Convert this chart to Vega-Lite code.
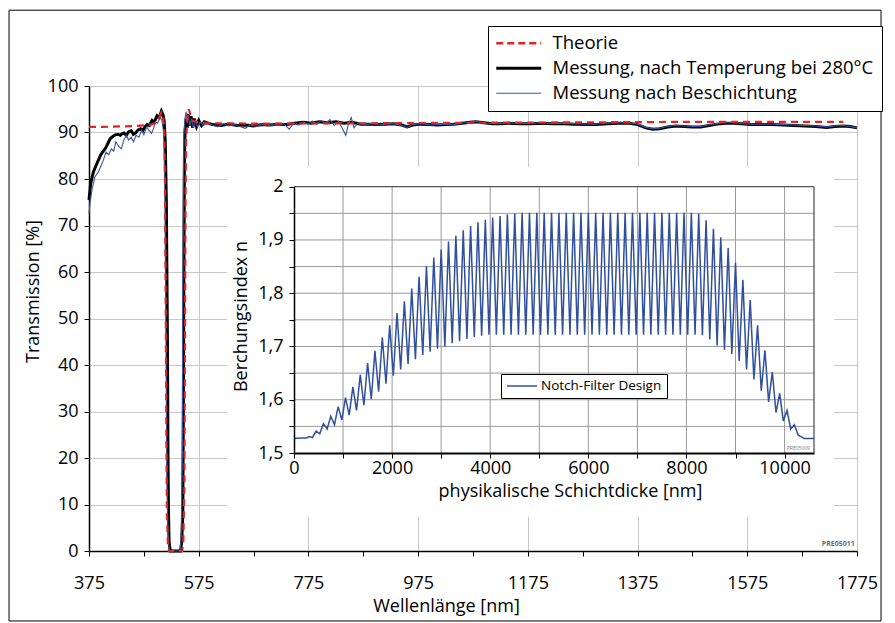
{
"$schema":"https://vega.github.io/schema/vega-lite/v6.json",
"width":768,"height":465,
"autosize":{"type":"none"},
"padding":{"left":89,"top":86,"right":38,"bottom":72},
"background":"white",
"config":{"font":"Open Sans","view":{"stroke":null},
 "axis":{"labelFont":"Open Sans","titleFont":"Open Sans","labelColor":"black","titleColor":"black","titleFontWeight":"normal","labelFontSize":18,"titleFontSize":18,"labelFlush":false,"labelOverlap":false,"domainColor":"black","tickColor":"black","tickSize":5},
 "legend":{"labelFont":"Open Sans","labelColor":"black","labelLimit":500}},
"layer":[
 {"data":{"values":[
{"s":"M","x":375,"y":75.5},{"s":"M","x":378,"y":79},{"s":"M","x":383,"y":81.5},{"s":"M","x":390,"y":83.5},{"s":"M","x":396,"y":85.1},{"s":"M","x":401,"y":86},{"s":"M","x":405,"y":86.6},{"s":"M","x":410,"y":87.8},{"s":"M","x":414,"y":88.7},{"s":"M","x":419,"y":89.2},{"s":"M","x":423,"y":89.5},{"s":"M","x":428,"y":89.6},{"s":"M","x":432,"y":89.4},{"s":"M","x":435,"y":89.7},{"s":"M","x":439,"y":89.9},{"s":"M","x":443,"y":89.4},{"s":"M","x":447,"y":90.1},{"s":"M","x":452,"y":90.4},{"s":"M","x":456,"y":89.6},{"s":"M","x":460,"y":89.9},{"s":"M","x":464,"y":90.5},{"s":"M","x":469,"y":90.8},{"s":"M","x":473,"y":90.4},{"s":"M","x":477,"y":91.2},{"s":"M","x":481,"y":91.7},{"s":"M","x":485,"y":91.5},{"s":"M","x":490,"y":92.6},{"s":"M","x":494,"y":92.2},{"s":"M","x":499,"y":93.6},{"s":"M","x":503,"y":93.2},{"s":"M","x":507,"y":94.6},{"s":"M","x":510,"y":93.8},{"s":"M","x":512,"y":92.5},{"s":"M","x":514,"y":88},{"s":"M","x":516,"y":75},{"s":"M","x":518,"y":45},{"s":"M","x":519,"y":20},{"s":"M","x":520,"y":8},{"s":"M","x":521,"y":2},{"s":"M","x":523,"y":0},{"s":"M","x":542,"y":0},{"s":"M","x":544,"y":2},{"s":"M","x":546,"y":8},{"s":"M","x":547,"y":30},{"s":"M","x":548,"y":60},{"s":"M","x":549,"y":85},{"s":"M","x":550,"y":90},{"s":"M","x":552,"y":93},{"s":"M","x":554,"y":91},{"s":"M","x":556,"y":94},{"s":"M","x":558,"y":91.5},{"s":"M","x":561,"y":93.5},{"s":"M","x":564,"y":91},{"s":"M","x":567,"y":93},{"s":"M","x":571,"y":91.3},{"s":"M","x":575,"y":92.6},{"s":"M","x":580,"y":91.5},{"s":"M","x":585,"y":92.3},{"s":"M","x":600,"y":91.7},{"s":"M","x":615,"y":91.5},{"s":"M","x":630,"y":91.8},{"s":"M","x":645,"y":91.5},{"s":"M","x":660,"y":91.6},{"s":"M","x":675,"y":91.4},{"s":"M","x":690,"y":91.7},{"s":"M","x":705,"y":91.6},{"s":"M","x":720,"y":91.8},{"s":"M","x":735,"y":91.7},{"s":"M","x":750,"y":92.0},{"s":"M","x":765,"y":92.2},{"s":"M","x":780,"y":92.0},{"s":"M","x":795,"y":92.3},{"s":"M","x":810,"y":92.1},{"s":"M","x":825,"y":92.3},{"s":"M","x":840,"y":92.0},{"s":"M","x":855,"y":92.2},{"s":"M","x":870,"y":91.8},{"s":"M","x":885,"y":91.8},{"s":"M","x":900,"y":91.7},{"s":"M","x":915,"y":91.8},{"s":"M","x":930,"y":91.9},{"s":"M","x":945,"y":91.6},{"s":"M","x":955,"y":91.2},{"s":"M","x":965,"y":91.6},{"s":"M","x":980,"y":91.8},{"s":"M","x":995,"y":91.7},{"s":"M","x":1010,"y":91.6},{"s":"M","x":1025,"y":91.7},{"s":"M","x":1040,"y":91.8},{"s":"M","x":1055,"y":92.0},{"s":"M","x":1070,"y":92.2},{"s":"M","x":1080,"y":92.3},{"s":"M","x":1095,"y":92.1},{"s":"M","x":1110,"y":91.9},{"s":"M","x":1125,"y":91.9},{"s":"M","x":1140,"y":92.0},{"s":"M","x":1160,"y":91.9},{"s":"M","x":1180,"y":91.9},{"s":"M","x":1200,"y":92.0},{"s":"M","x":1220,"y":91.9},{"s":"M","x":1240,"y":91.9},{"s":"M","x":1260,"y":91.8},{"s":"M","x":1280,"y":91.7},{"s":"M","x":1300,"y":91.7},{"s":"M","x":1320,"y":91.9},{"s":"M","x":1340,"y":92.0},{"s":"M","x":1360,"y":92.0},{"s":"M","x":1375,"y":91.7},{"s":"M","x":1390,"y":91.0},{"s":"M","x":1403,"y":90.7},{"s":"M","x":1415,"y":90.8},{"s":"M","x":1430,"y":91.2},{"s":"M","x":1445,"y":91.4},{"s":"M","x":1460,"y":91.3},{"s":"M","x":1475,"y":91.2},{"s":"M","x":1490,"y":91.2},{"s":"M","x":1505,"y":91.5},{"s":"M","x":1520,"y":91.8},{"s":"M","x":1535,"y":92.0},{"s":"M","x":1550,"y":92.0},{"s":"M","x":1565,"y":91.9},{"s":"M","x":1580,"y":91.7},{"s":"M","x":1600,"y":91.7},{"s":"M","x":1620,"y":91.7},{"s":"M","x":1640,"y":91.6},{"s":"M","x":1660,"y":91.5},{"s":"M","x":1680,"y":91.4},{"s":"M","x":1700,"y":91.3},{"s":"M","x":1720,"y":91.1},{"s":"M","x":1735,"y":91.3},{"s":"M","x":1750,"y":91.4},{"s":"M","x":1762,"y":91.3},{"s":"M","x":1775,"y":91.0},
{"s":"B","x":375,"y":72.5},{"s":"B","x":377,"y":75},{"s":"B","x":381,"y":78},{"s":"B","x":386,"y":80.5},{"s":"B","x":392,"y":81.5},{"s":"B","x":397,"y":82.9},{"s":"B","x":401,"y":84},{"s":"B","x":406,"y":85.8},{"s":"B","x":411,"y":85.2},{"s":"B","x":416,"y":86.5},{"s":"B","x":420,"y":86},{"s":"B","x":424,"y":88},{"s":"B","x":429,"y":87},{"s":"B","x":434,"y":86.5},{"s":"B","x":438,"y":88.2},{"s":"B","x":443,"y":89.4},{"s":"B","x":447,"y":88.4},{"s":"B","x":452,"y":89},{"s":"B","x":456,"y":88},{"s":"B","x":461,"y":89.4},{"s":"B","x":466,"y":89},{"s":"B","x":471,"y":90.5},{"s":"B","x":475,"y":89.5},{"s":"B","x":480,"y":91.2},{"s":"B","x":484,"y":90.5},{"s":"B","x":489,"y":89.8},{"s":"B","x":493,"y":91},{"s":"B","x":496,"y":92.3},{"s":"B","x":500,"y":92},{"s":"B","x":505,"y":93.4},{"s":"B","x":508,"y":92.5},{"s":"B","x":511,"y":90},{"s":"B","x":513,"y":80},{"s":"B","x":515,"y":50},{"s":"B","x":517,"y":15},{"s":"B","x":519,"y":4},{"s":"B","x":521,"y":0.5},{"s":"B","x":523,"y":0},{"s":"B","x":541,"y":0},{"s":"B","x":543,"y":3},{"s":"B","x":545,"y":20},{"s":"B","x":546,"y":55},{"s":"B","x":547,"y":80},{"s":"B","x":548,"y":90},{"s":"B","x":550,"y":93},{"s":"B","x":552,"y":94.5},{"s":"B","x":554,"y":92},{"s":"B","x":556,"y":93.5},{"s":"B","x":559,"y":91.5},{"s":"B","x":562,"y":93},{"s":"B","x":565,"y":91},{"s":"B","x":569,"y":92.5},{"s":"B","x":573,"y":91.2},{"s":"B","x":578,"y":92.3},{"s":"B","x":583,"y":91.5},{"s":"B","x":590,"y":91.9},{"s":"B","x":600,"y":91.6},{"s":"B","x":610,"y":91.2},{"s":"B","x":620,"y":91.9},{"s":"B","x":630,"y":91.4},{"s":"B","x":640,"y":91.7},{"s":"B","x":650,"y":91.3},{"s":"B","x":660,"y":90.9},{"s":"B","x":668,"y":91.6},{"s":"B","x":680,"y":91.3},{"s":"B","x":690,"y":91.8},{"s":"B","x":700,"y":91.4},{"s":"B","x":710,"y":91.7},{"s":"B","x":720,"y":91.5},{"s":"B","x":730,"y":91.9},{"s":"B","x":740,"y":90.7},{"s":"B","x":748,"y":92.0},{"s":"B","x":758,"y":91.6},{"s":"B","x":766,"y":92.3},{"s":"B","x":774,"y":91.8},{"s":"B","x":782,"y":92.5},{"s":"B","x":790,"y":91.7},{"s":"B","x":798,"y":92.6},{"s":"B","x":806,"y":91.9},{"s":"B","x":814,"y":92.8},{"s":"B","x":822,"y":91.5},{"s":"B","x":830,"y":92.4},{"s":"B","x":838,"y":90.6},{"s":"B","x":843,"y":89.4},{"s":"B","x":848,"y":91.8},{"s":"B","x":853,"y":93.2},{"s":"B","x":858,"y":91.0},{"s":"B","x":865,"y":92.0},{"s":"B","x":875,"y":91.7},{"s":"B","x":890,"y":91.9},{"s":"B","x":905,"y":91.6},{"s":"B","x":920,"y":91.9},{"s":"B","x":935,"y":91.8},{"s":"B","x":948,"y":91.4},{"s":"B","x":955,"y":91.1},{"s":"B","x":965,"y":91.7},{"s":"B","x":980,"y":91.9},{"s":"B","x":1000,"y":91.6},{"s":"B","x":1020,"y":91.8},{"s":"B","x":1040,"y":91.7},{"s":"B","x":1060,"y":92.1},{"s":"B","x":1080,"y":92.4},{"s":"B","x":1100,"y":92.0},{"s":"B","x":1120,"y":91.9},{"s":"B","x":1140,"y":92.1},{"s":"B","x":1160,"y":91.9},{"s":"B","x":1180,"y":92.0},{"s":"B","x":1200,"y":92.1},{"s":"B","x":1220,"y":91.9},{"s":"B","x":1240,"y":92.0},{"s":"B","x":1260,"y":91.9},{"s":"B","x":1280,"y":91.8},{"s":"B","x":1300,"y":91.8},{"s":"B","x":1320,"y":92.0},{"s":"B","x":1340,"y":92.1},{"s":"B","x":1360,"y":92.0},{"s":"B","x":1375,"y":91.8},{"s":"B","x":1390,"y":91.1},{"s":"B","x":1403,"y":90.8},{"s":"B","x":1415,"y":90.9},{"s":"B","x":1430,"y":91.3},{"s":"B","x":1445,"y":91.5},{"s":"B","x":1460,"y":91.4},{"s":"B","x":1475,"y":91.3},{"s":"B","x":1490,"y":91.3},{"s":"B","x":1505,"y":91.6},{"s":"B","x":1520,"y":91.9},{"s":"B","x":1535,"y":92.1},{"s":"B","x":1550,"y":92.1},{"s":"B","x":1565,"y":91.9},{"s":"B","x":1580,"y":91.8},{"s":"B","x":1600,"y":91.8},{"s":"B","x":1620,"y":91.8},{"s":"B","x":1640,"y":91.7},{"s":"B","x":1660,"y":91.6},{"s":"B","x":1680,"y":91.5},{"s":"B","x":1700,"y":91.4},{"s":"B","x":1720,"y":91.2},{"s":"B","x":1735,"y":91.4},{"s":"B","x":1750,"y":91.5},{"s":"B","x":1762,"y":91.3},{"s":"B","x":1775,"y":91.0},
{"s":"T","x":375,"y":91.2},{"s":"T","x":400,"y":91.2},{"s":"T","x":430,"y":91.3},{"s":"T","x":460,"y":91.4},{"s":"T","x":485,"y":91.6},{"s":"T","x":495,"y":92},{"s":"T","x":502,"y":93},{"s":"T","x":507,"y":94.3},{"s":"T","x":510,"y":93.5},{"s":"T","x":512,"y":91},{"s":"T","x":513,"y":85},{"s":"T","x":514,"y":70},{"s":"T","x":515,"y":50},{"s":"T","x":516,"y":25},{"s":"T","x":517,"y":8},{"s":"T","x":519,"y":1},{"s":"T","x":521,"y":0},{"s":"T","x":545,"y":0},{"s":"T","x":547,"y":2},{"s":"T","x":549,"y":15},{"s":"T","x":550,"y":45},{"s":"T","x":551,"y":75},{"s":"T","x":552,"y":88},{"s":"T","x":554,"y":93},{"s":"T","x":557,"y":95},{"s":"T","x":560,"y":93.8},{"s":"T","x":564,"y":92.5},{"s":"T","x":570,"y":92.3},{"s":"T","x":580,"y":92.0},{"s":"T","x":700,"y":91.9},{"s":"T","x":900,"y":92.0},{"s":"T","x":1100,"y":92.1},{"s":"T","x":1300,"y":92.2},{"s":"T","x":1500,"y":92.3},{"s":"T","x":1750,"y":92.3}
  ]},
 "layer":[
  {"transform":[{"filter":"datum.s==='M'"}],
   "mark":{"type":"line","strokeWidth":3},
   "encoding":{
    "x":{"field":"x","type":"quantitative","scale":{"domain":[375,1775],"nice":false,"zero":false},
     "axis":{"values":[375,475,575,675,775,875,975,1075,1175,1275,1375,1475,1575,1675,1775],"format":"d",
      "labelExpr":"(datum.value-375)%200===0 ? datum.label : ''",
      "gridOpacity":{"condition":{"test":"(datum.value-375)%200===0","value":1},"value":0},
      "gridColor":"#c8c8c8","domainWidth":1.5,"labelBaseline":"middle","labelPadding":27,
      "title":"Wellenlänge [nm]","titleX":357,"titleY":55,"titleBaseline":"middle"}},
    "y":{"field":"y","type":"quantitative","scale":{"domain":[0,100],"nice":false,"zero":false},
     "axis":{"values":[0,5,10,15,20,25,30,35,40,45,50,55,60,65,70,75,80,85,90,95,100],"format":"d",
      "labelExpr":"datum.value%10===0 ? datum.label : ''",
      "gridOpacity":{"condition":{"test":"datum.value%10===0","value":1},"value":0},
      "gridColor":"#c8c8c8","domainWidth":1.5,"labelPadding":6,
      "title":"Transmission [%]","titleX":-56,"titleY":205,"titleBaseline":"middle","titleAngle":-90}},
    "color":{"field":"s","type":"nominal","scale":{"domain":["T","M","B"],"range":["#e52421","#000000","#3655a5"]},
     "legend":{"orient":"none","legendX":399,"legendY":-60,"title":null,"symbolType":"M-1,0H4","symbolSize":324,"labelFontSize":18.5,"padding":8,"rowPadding":6,"strokeColor":"black","fillColor":"white","labelOffset":38,
      "values":["T","M","B"],
      "labelExpr":"datum.value=='T' ? 'Theorie' : datum.value=='M' ? 'Messung, nach Temperung bei 280°C' : 'Messung nach Beschichtung'",
      "encode":{"symbols":{"update":{"strokeDash":{"signal":"datum.value==='T' ? [7,4] : [1,0]"},"strokeWidth":{"signal":"datum.value==='T' ? 2.4 : datum.value==='M' ? 3 : 1.2"}}}}}}
   }},
  {"transform":[{"filter":"datum.s==='B'"}],
   "mark":{"type":"line","strokeWidth":1.1},
   "encoding":{"x":{"field":"x","type":"quantitative"},"y":{"field":"y","type":"quantitative"},"color":{"field":"s","type":"nominal"}}},
  {"transform":[{"filter":"datum.s==='T'"}],
   "mark":{"type":"line","strokeWidth":2.2,"strokeDash":[7,5]},
   "encoding":{"x":{"field":"x","type":"quantitative"},"y":{"field":"y","type":"quantitative"},"color":{"field":"s","type":"nominal"}}},
  {"data":{"values":[{}]},"mark":{"type":"rect","filled":false,"stroke":"black","strokeWidth":1},
   "encoding":{"x":{"datum":229.2,"type":"quantitative","scale":{"domain":[375,1775],"nice":false,"zero":false}},"x2":{"datum":1818.8},
    "y":{"datum":116.3,"type":"quantitative","scale":{"domain":[0,100],"nice":false,"zero":false}},"y2":{"datum":-15.05}}},
  {"data":{"values":[{}]},"mark":{"type":"text","align":"right","baseline":"bottom","fontSize":7,"fontWeight":"bold","color":"#6b6b6b"},
   "encoding":{"x":{"datum":1771,"type":"quantitative","scale":{"domain":[375,1775],"nice":false,"zero":false}},"y":{"datum":0.8,"type":"quantitative","scale":{"domain":[0,100],"nice":false,"zero":false}},"text":{"value":"PRE05011"}}}
 ]},
 {"layer":[
  {"data":{"values":[{}]},"mark":{"type":"rect","fill":"white"},
   "encoding":{"x":{"datum":-1366,"type":"quantitative","scale":{"domain":[0,10600],"range":[205,725],"nice":false,"zero":false}},"x2":{"datum":11007},
    "y":{"datum":1.38,"type":"quantitative","scale":{"domain":[1.5,2],"range":[367,100.7],"nice":false,"zero":false}},"y2":{"datum":2.037}}},
  {"data":{"values":[{"g":1000},{"g":2000},{"g":3000},{"g":4000},{"g":5000},{"g":6000},{"g":7000},{"g":8000},{"g":9000},{"g":10000}]},
   "mark":{"type":"rule","color":"#9a9a9a","strokeWidth":1},
   "encoding":{"x":{"field":"g","type":"quantitative","scale":{"domain":[0,10600],"range":[205,725],"nice":false,"zero":false}},
    "y":{"datum":1.5,"type":"quantitative","scale":{"domain":[1.5,2],"range":[367,100.7],"nice":false,"zero":false}},"y2":{"datum":2}}},
  {"data":{"values":[{"g":1.55},{"g":1.6},{"g":1.65},{"g":1.7},{"g":1.75},{"g":1.8},{"g":1.85},{"g":1.9},{"g":1.95}]},
   "mark":{"type":"rule","color":"#9a9a9a","strokeWidth":1},
   "encoding":{"y":{"field":"g","type":"quantitative","scale":{"domain":[1.5,2],"range":[367,100.7],"nice":false,"zero":false}},
    "x":{"datum":0,"type":"quantitative","scale":{"domain":[0,10600],"range":[205,725],"nice":false,"zero":false}},"x2":{"datum":10600}}},
  {"data":{"values":[{}]},"mark":{"type":"rule","color":"#555555","strokeWidth":1.3},
   "encoding":{"x":{"datum":0,"type":"quantitative","scale":{"domain":[0,10600],"range":[205,725],"nice":false,"zero":false}},"x2":{"datum":10600},
    "y":{"datum":2,"type":"quantitative","scale":{"domain":[1.5,2],"range":[367,100.7],"nice":false,"zero":false}}}},
  {"data":{"values":[{}]},"mark":{"type":"rule","color":"#555555","strokeWidth":1.3},
   "encoding":{"x":{"datum":10600,"type":"quantitative","scale":{"domain":[0,10600],"range":[205,725],"nice":false,"zero":false}},
    "y":{"datum":1.5,"type":"quantitative","scale":{"domain":[1.5,2],"range":[367,100.7],"nice":false,"zero":false}},"y2":{"datum":2}}},
  {"data":{"values":[
{"d":0,"n":1.527},{"d":150,"n":1.528},{"d":260,"n":1.528},
{"d":300,"n":1.531},{"d":375,"n":1.529},{"d":450,"n":1.541},{"d":525,"n":1.536},{"d":600,"n":1.555},{"d":675,"n":1.545},{"d":750,"n":1.569},{"d":825,"n":1.553},{"d":900,"n":1.587},{"d":975,"n":1.562},{"d":1050,"n":1.604},{"d":1125,"n":1.571},{"d":1200,"n":1.624},{"d":1275,"n":1.58},{"d":1350,"n":1.647},{"d":1425,"n":1.59},{"d":1500,"n":1.669},{"d":1575,"n":1.601},{"d":1650,"n":1.692},{"d":1725,"n":1.615},{"d":1800,"n":1.717},{"d":1875,"n":1.63},{"d":1950,"n":1.74},{"d":2025,"n":1.645},{"d":2100,"n":1.763},{"d":2175,"n":1.657},{"d":2250,"n":1.785},{"d":2325,"n":1.667},{"d":2400,"n":1.809},{"d":2475,"n":1.676},{"d":2550,"n":1.831},{"d":2625,"n":1.684},{"d":2700,"n":1.851},{"d":2775,"n":1.69},{"d":2850,"n":1.867},{"d":2925,"n":1.696},{"d":3000,"n":1.882},{"d":3075,"n":1.7},{"d":3150,"n":1.897},{"d":3225,"n":1.706},{"d":3300,"n":1.908},{"d":3375,"n":1.71},{"d":3450,"n":1.918},{"d":3525,"n":1.714},{"d":3600,"n":1.926},{"d":3675,"n":1.718},{"d":3750,"n":1.933},{"d":3825,"n":1.72},{"d":3900,"n":1.938},{"d":3975,"n":1.722},{"d":4050,"n":1.942},{"d":4125,"n":1.722},{"d":4200,"n":1.945},{"d":4275,"n":1.722},{"d":4350,"n":1.948},{"d":4425,"n":1.722},{"d":4500,"n":1.95},{"d":4575,"n":1.722},{"d":4650,"n":1.951},{"d":4725,"n":1.722},{"d":4800,"n":1.951},{"d":4875,"n":1.722},{"d":4950,"n":1.951},{"d":5025,"n":1.722},{"d":5100,"n":1.951},{"d":5175,"n":1.722},{"d":5250,"n":1.951},{"d":5325,"n":1.722},{"d":5400,"n":1.951},{"d":5475,"n":1.722},{"d":5550,"n":1.951},{"d":5625,"n":1.722},{"d":5700,"n":1.951},{"d":5775,"n":1.722},{"d":5850,"n":1.951},{"d":5925,"n":1.722},{"d":6000,"n":1.951},{"d":6075,"n":1.722},{"d":6150,"n":1.951},{"d":6225,"n":1.722},{"d":6300,"n":1.951},{"d":6375,"n":1.722},{"d":6450,"n":1.951},{"d":6525,"n":1.722},{"d":6600,"n":1.951},{"d":6675,"n":1.722},{"d":6750,"n":1.951},{"d":6825,"n":1.722},{"d":6900,"n":1.951},{"d":6975,"n":1.722},{"d":7050,"n":1.951},{"d":7125,"n":1.722},{"d":7200,"n":1.951},{"d":7275,"n":1.722},{"d":7350,"n":1.951},{"d":7425,"n":1.722},{"d":7500,"n":1.951},{"d":7575,"n":1.722},{"d":7650,"n":1.951},{"d":7725,"n":1.722},{"d":7800,"n":1.951},{"d":7875,"n":1.722},{"d":7950,"n":1.951},{"d":8025,"n":1.722},{"d":8100,"n":1.951},{"d":8175,"n":1.722},{"d":8250,"n":1.949},{"d":8325,"n":1.721},{"d":8400,"n":1.937},{"d":8475,"n":1.713},{"d":8550,"n":1.921},{"d":8625,"n":1.702},{"d":8700,"n":1.905},{"d":8775,"n":1.694},{"d":8850,"n":1.885},{"d":8925,"n":1.686},{"d":9000,"n":1.857},{"d":9075,"n":1.673},{"d":9150,"n":1.825},{"d":9225,"n":1.657},{"d":9300,"n":1.787},{"d":9375,"n":1.638},{"d":9450,"n":1.74},{"d":9525,"n":1.617},{"d":9600,"n":1.693},{"d":9675,"n":1.596},{"d":9750,"n":1.652},{"d":9825,"n":1.576},{"d":9900,"n":1.612},{"d":9975,"n":1.56},{"d":10050,"n":1.58},{"d":10125,"n":1.545},{"d":10200,"n":1.553},{"d":10275,"n":1.534},{"d":10350,"n":1.53},{"d":10400,"n":1.527},{"d":10600,"n":1.527}
  ]},
  "mark":{"type":"line","strokeWidth":1.5},
  "encoding":{
   "x":{"field":"d","type":"quantitative","scale":{"domain":[0,10600],"range":[205,725],"nice":false,"zero":false},
    "axis":{"orient":"bottom","offset":-98,"values":[0,1000,2000,3000,4000,5000,6000,7000,8000,9000,10000],"format":"d",
     "labelExpr":"datum.value%2000===0 ? datum.label : ''","grid":false,"domainWidth":2,"labelBaseline":"middle","labelPadding":10,
     "title":"physikalische Schichtdicke [nm]","titleX":481,"titleY":38,"titleBaseline":"middle","zindex":1}},
   "y":{"field":"n","type":"quantitative","scale":{"domain":[1.5,2],"range":[367,100.7],"nice":false,"zero":false},
    "axis":{"orient":"left","offset":-205,"values":[1.5,1.55,1.6,1.65,1.7,1.75,1.8,1.85,1.9,1.95,2],
     "labelExpr":"abs(datum.value*10-round(datum.value*10))<0.01 ? replace(format(datum.value,'.1~f'),'.',',') : ''",
     "grid":false,"domainWidth":1.5,"labelPadding":6,
     "title":"Berchungsindex n","titleX":-53,"titleY":230,"titleBaseline":"middle","titleAngle":-90,"zindex":1}},
   "color":{"datum":"Notch-Filter Design","type":"nominal","scale":{"range":["#2f4f9f"]},
    "legend":{"orient":"none","legendX":412,"legendY":288,"title":null,"symbolType":"M-1,0H4","symbolSize":144,"symbolStrokeWidth":1.5,"labelFontSize":13.5,"padding":5,"strokeColor":"black","fillColor":"white","labelOffset":21}}
  }},
  {"data":{"values":[{}]},"mark":{"type":"text","align":"right","baseline":"bottom","fontSize":5,"color":"#777777"},
   "encoding":{"x":{"datum":10518,"type":"quantitative","scale":{"domain":[0,10600],"range":[205,725],"nice":false,"zero":false}},
    "y":{"datum":1.504,"type":"quantitative","scale":{"domain":[1.5,2],"range":[367,100.7],"nice":false,"zero":false}},"text":{"value":"PRE05009"}}}
 ]}
],
"resolve":{"scale":{"x":"independent","y":"independent","color":"independent"},"axis":{"x":"independent","y":"independent"},"legend":{"color":"independent"}}
}
